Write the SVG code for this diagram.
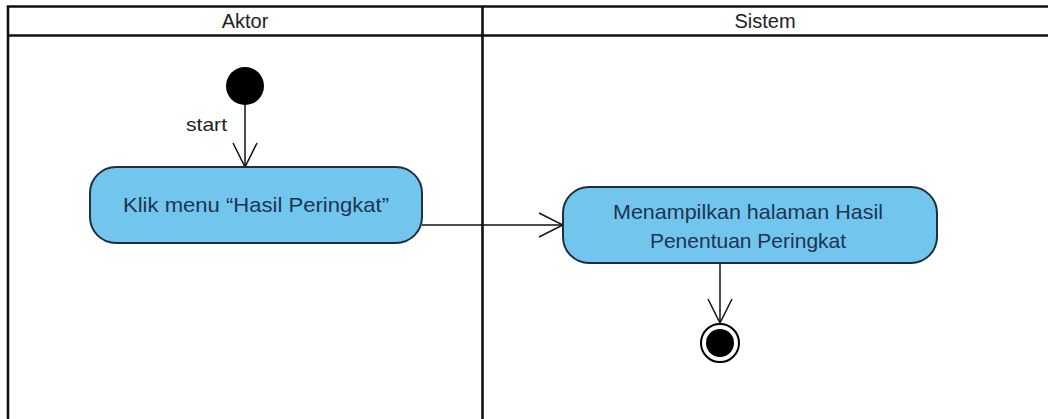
<svg xmlns="http://www.w3.org/2000/svg" width="1048" height="419" viewBox="0 0 1048 419">
<style>
.lane{fill:none;stroke:#111;stroke-width:2.6}
.hdr{font-family:"Liberation Sans",Arial,sans-serif;font-size:20px;fill:#222;text-anchor:middle}
.act{fill:#72C6EE;stroke:#1d2f3a;stroke-width:2}
.atxt{font-family:"Liberation Sans",Arial,sans-serif;font-size:21px;fill:#1c3550;text-anchor:middle}
.lbl{font-family:"Liberation Sans",Arial,sans-serif;font-size:19px;fill:#222}
.flow{fill:none;stroke:#111;stroke-width:1.5}
</style>
<defs>
<marker id="open" viewBox="0 0 26 26" refX="25" refY="13" markerWidth="26" markerHeight="26" markerUnits="userSpaceOnUse" orient="auto">
<path d="M1,1 L25,13 L1,25" fill="none" stroke="#111" stroke-width="1.5"/>
</marker>
</defs>
<rect width="1048" height="419" fill="#fff"/>
<g id="swimlanes">
<path class="lane" d="M8,420 V6.5 H1050 M8,35.5 H1050 M482.5,6.5 V420"/>
<text class="hdr" x="245" y="28">Aktor</text>
<text class="hdr" x="765" y="28">Sistem</text>
</g>
<g id="connectors">
<line class="flow" x1="245" y1="104" x2="245" y2="167" marker-end="url(#open)"/>
<text class="lbl" x="186" y="131" textLength="41" lengthAdjust="spacingAndGlyphs">start</text>
<line class="flow" x1="422" y1="225" x2="563" y2="225" marker-end="url(#open)"/>
<line class="flow" x1="720" y1="263" x2="720" y2="323" marker-end="url(#open)"/>
</g>
<g id="start">
<circle cx="245" cy="86" r="19" fill="#000"/>
</g>
<g id="action1">
<rect class="act" x="90" y="167" width="332" height="76" rx="26"/>
<text class="atxt" x="256" y="212" textLength="266" lengthAdjust="spacingAndGlyphs">Klik menu “Hasil Peringkat”</text>
</g>
<g id="action2">
<rect class="act" x="563" y="187" width="374" height="76" rx="26"/>
<text class="atxt" x="748" y="219" textLength="270" lengthAdjust="spacingAndGlyphs">Menampilkan halaman Hasil</text>
<text class="atxt" x="748" y="248">Penentuan Peringkat</text>
</g>
<g id="end">
<circle cx="720" cy="343" r="19" fill="#fff" stroke="#000" stroke-width="2"/>
<circle cx="720" cy="343" r="14" fill="#000"/>
</g>
</svg>
